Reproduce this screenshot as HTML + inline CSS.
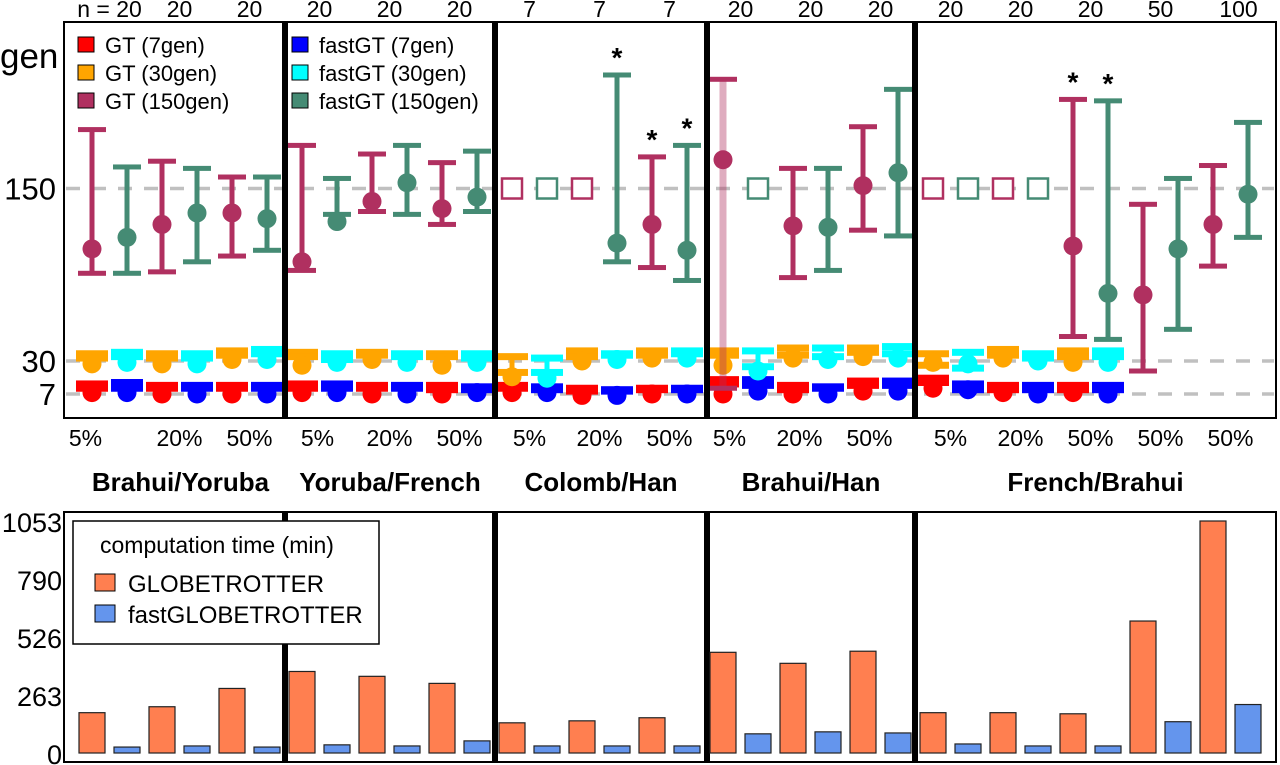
<!DOCTYPE html>
<html><head><meta charset="utf-8"><style>
html,body{margin:0;padding:0;background:#fff;}
svg{display:block;font-family:"Liberation Sans",Arial,sans-serif;}
</style></head><body>
<svg id="chart" width="1280" height="765" viewBox="0 0 1280 765" xmlns="http://www.w3.org/2000/svg"></svg>
<script>
// ---- data ----
const panelNames = ["Brahui/Yoruba","Yoruba/French","Colomb/Han","Brahui/Han","French/Brahui"];
const colsPerPanel = [6,6,6,6,10];
const pctLabels = [["5%","20%","50%"],["5%","20%","50%"],["5%","20%","50%"],["5%","20%","50%"],["5%","20%","50%","50%","50%"]];
const nLabels = [["n = 20","20","20"],["20","20","20"],["7","7","7"],["20","20","20"],["20","20","20","50","100"]];
const yTicks = [7,30,150];
// 150-gen series (null = not estimated -> open square)
const hi150 = [191,165,169,164,158,158, 180,157,174,180,168,176, null,null,null,229,172,180, 226,null,164,164,193,219, null,null,null,null,212,211,139,157,166,196];
const mid150 = [108,116,125,133,133,129, 99,127,141,154,136,144, null,null,null,112,125,107, 170,null,124,123,152,161, null,null,null,null,110,77,76,108,125,146];
const lo150 = [91,91,92,99,103,107, 93,132,134,132,125,134, null,null,null,99,95,86, 11,null,88,93,121,117, null,null,null,null,47,45,23,52,96,116];
const star = [0,0,0,0,0,0, 0,0,0,0,0,0, 0,0,0,1,1,1, 0,0,0,0,0,0, 0,0,0,0,1,1,0,0,0,0];
const hi30 = [35,36,35,35,37,38, 36,35,36,35,35,35, 33,32,37,35,37,37, 37,37,39,39,39,40, 35,36,38,35,37,37,null,null,null,null];
const mid30 = [28,29,28,28,31,31, 27,29,31,29,27,29, 19,18,30,31,32,32, 27,23,32,31,33,32, 29,28,32,30,29,29,null,null,null,null];
const lo30 = [32,33,32,32,34,35, 33,31,34,33,33,32, 22,22,33,34,34,35, 34,26,34,33,36,35, 27,25,34,32,33,33,null,null,null,null];
const hi7 = [14,15,13,13,13,13, 14,14,13,13,13,12, 13,12,11,10,11,11, 17,17,13,12,16,16, 18,14,13,13,13,13,null,null,null,null];
const mid7 = [8,8,7,7,7,7, 8,8,7,7,7,8, 8,8,6,6,7,7, 7,9,7,7,9,9, 11,10,8,7,8,7,null,null,null,null];
const lo7 = [11,11,11,11,11,11, 11,11,11,11,10,10, 11,10,9,9,10,10, 14,13,10,11,13,13, 15,10,10,10,10,10,null,null,null,null];
// computation time (min)
const timeValues = [183,27,210,32,293,27, 370,37,348,32,316,55, 137,32,146,32,160,32, 457,87,407,96,462,91, 183,41,183,32,178,32,599,142,1053,220];
const timeTicks = [0,263,526,790,1053];

// ---- layout ----
const NS="http://www.w3.org/2000/svg";
const svg=document.getElementById('chart');
function el(tag,attrs,parent){const e=document.createElementNS(NS,tag);for(const k in attrs)e.setAttribute(k,attrs[k]);(parent||svg).appendChild(e);return e;}
const panelStart=[64,285,495,707,915], panelEnd=1276;
const firstOff=[28,17,17,16,18];
const colX=[];
panelStart.forEach((s,p)=>{for(let j=0;j<colsPerPanel[p];j++)colX.push(s+firstOff[p]+j*35);});
const yTop=v=>394-(v-7)*1.437;
const yBot=v=>753-v*(753-521)/1053;
const C={gt7:"#ff0000",gt30:"#ffa500",gt150:"#b03060",f7:"#0000ff",f30:"#00ffff",f150:"#458b74",orange:"#ff7f50",blue:"#6495ed"};

// top frame
el('rect',{x:64,y:22,width:1212,height:396,fill:"none",stroke:"#000","stroke-width":2,});
// gridlines
yTicks.forEach(v=>{
  const g=el('line',{x1:66,x2:1274,y1:yTop(v),y2:yTop(v),stroke:"#c0c0c0","stroke-width":3.5,"stroke-dasharray":"14 12"});
  
  
  const t=el('text',{x:56,y:yTop(v)+11,"font-size":31,"text-anchor":"end"});
  t.textContent=v;
  
  
});
const gt=el('text',{x:0,y:68,"font-size":35});gt.textContent="gen";



function errbar(i,hi,mid,lo,color,capW,capH,opts){
  const x=colX[i];
  const g=el('g',{});
  
  
  el('line',{x1:x,x2:x,y1:yTop(hi),y2:yTop(lo),stroke:opts&&opts.faded?"rgba(176,48,96,0.4)":color,"stroke-width":opts&&opts.faded?7:5},g);
  el('rect',{x:x-capW/2,y:yTop(hi)-capH/2,width:capW,height:capH,fill:color},g);
  el('rect',{x:x-capW/2,y:yTop(lo)-capH/2,width:capW,height:capH,fill:color},g);
  el('circle',{cx:x,cy:yTop(mid),r:9.5,fill:color},g);
}
colX.forEach((x,i)=>{
  let p=0,c=0,acc=0;for(p=0;p<5;p++){if(i<acc+colsPerPanel[p]){c=i-acc;break;}acc+=colsPerPanel[p];}
  const isGT=c%2===0;
  if(mid7[i]!=null) errbar(i,hi7[i],mid7[i],lo7[i],isGT?C.gt7:C.f7,32,7);
  if(mid30[i]!=null) errbar(i,hi30[i],mid30[i],lo30[i],isGT?C.gt30:C.f30,32,7);
  const col150=isGT?C.gt150:C.f150;
  if(mid150[i]==null){
    const s=el('rect',{x:x-10,y:yTop(150)-10,width:20,height:20,fill:"#fff",stroke:col150,"stroke-width":2.5});
    
    
  } else {
    errbar(i,hi150[i],mid150[i],lo150[i],col150,28,5,{faded:(p===3&&c===0)});
  }
  if(star[i]){
    const t=el('text',{x:x,y:yTop(hi150[i])-8,"font-size":28,"font-weight":"bold","text-anchor":"middle"});
    t.textContent="*";
    
    
  }
});
// dividers
[285,495,707,915].forEach(x=>{
  const l=el('line',{x1:x,x2:x,y1:22,y2:418,stroke:"#000","stroke-width":6});
  
  
  const l2=el('line',{x1:x,x2:x,y1:512,y2:762,stroke:"#000","stroke-width":6});
  
  
});
// labels
let ci=0;
panelStart.forEach((s,p)=>{
  const pairs=colsPerPanel[p]/2;
  for(let k=0;k<pairs;k++){
    const cx=(colX[ci+2*k]+colX[ci+2*k+1])/2;
    let off=0;
    if(p===0&&k===0)off=-24;
    if(p===1&&k===0)off=-2;
    if(p===3)off=-11;
    const t=el('text',{x:cx+off,y:446,"font-size":23,"text-anchor":"middle"});
    t.textContent=pctLabels[p][k];
    
    
    const n=el('text',{x:cx+(p===4&&k===4?8:0),y:17,"font-size":23,"text-anchor":"middle"});
    n.textContent=nLabels[p][k];
    
    
  }
  ci+=colsPerPanel[p];
  const e=(p<4?panelStart[p+1]:panelEnd);
  const tt=el('text',{x:(s+e)/2+(p===0?6:0),y:491,"font-size":26,"font-weight":"bold","text-anchor":"middle"});
  tt.textContent=panelNames[p];
  
  
});
// top legend
const legItems=[["GT (7gen)",C.gt7,78,45],["GT (30gen)",C.gt30,78,73],["GT (150gen)",C.gt150,78,101],["fastGT (7gen)",C.f7,292,45],["fastGT (30gen)",C.f30,292,73],["fastGT (150gen)",C.f150,292,101]];
legItems.forEach(([lab,col,x,y])=>{
  const g=el('g',{});
  
  
  el('rect',{x:x,y:y-8,width:16,height:15,fill:col,stroke:"#000","stroke-width":1},g);
  const t=el('text',{x:x+27,y:y+8,"font-size":22},g);t.textContent=lab;
});
// bottom panel
el('rect',{x:64,y:512,width:1212,height:250,fill:"none",stroke:"#000","stroke-width":2,});
timeTicks.forEach(v=>{
  const t=el('text',{x:62,y:yBot(v)+11,"font-size":27,"text-anchor":"end"});
  t.textContent=v;
  
  
});
timeValues.forEach((v,i)=>{
  let acc=0,c=0;for(let p=0;p<5;p++){if(i<acc+colsPerPanel[p]){c=i-acc;break;}acc+=colsPerPanel[p];}
  const b=el('rect',{x:colX[i]-13,y:yBot(v),width:26,height:yBot(0)-yBot(v),fill:c%2===0?C.orange:C.blue,stroke:"#222","stroke-width":1.2});
  
  
});
const lg=el('g',{});


el('rect',{x:73,y:521,width:306,height:123,fill:"#fff",stroke:"#000","stroke-width":1.5},lg);
const lt=el('text',{x:100,y:553,"font-size":23},lg);lt.textContent="computation time (min)";
el('rect',{x:95,y:574,width:20,height:17,fill:C.orange,stroke:"#000"},lg);
const l1=el('text',{x:128,y:592,"font-size":24},lg);l1.textContent="GLOBETROTTER";
el('rect',{x:95,y:605,width:20,height:17,fill:C.blue,stroke:"#000"},lg);
const l2=el('text',{x:128,y:623,"font-size":24},lg);l2.textContent="fastGLOBETROTTER";
</script>
</body></html>
